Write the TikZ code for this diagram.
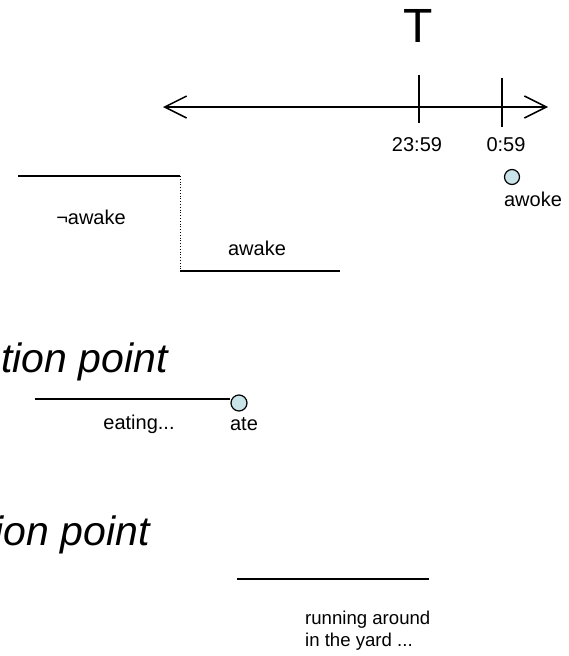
\documentclass[tikz,border=0pt]{standalone}
\usepackage{fontspec}
\setmainfont{Liberation Sans}
\usetikzlibrary{arrows.meta}
\definecolor{dotfill}{HTML}{C8E4E8}
\tikzset{
  lbl/.style={inner sep=0pt, font=\fontsize{20}{22}\selectfont},
  smalllbl/.style={inner sep=0pt, font=\fontsize{18.6}{22}\selectfont, align=left},
  bigital/.style={inner sep=0pt, font=\fontsize{41}{46}\selectfont\itshape},
  bigT/.style={inner sep=0pt, font=\fontsize{48}{50}\selectfont},
  ln/.style={line width=1.5pt},
  dotnode/.style={circle, draw, line width=1.2pt, fill=dotfill, inner sep=0pt, minimum size=15pt},
  tip/.style={line width=1.5pt, {Straight Barb[length=22pt,width=22pt,line width=1.5pt]}-{Straight Barb[length=22pt,width=22pt,line width=1.5pt]}}
}
\begin{document}
\begin{tikzpicture}[x=1pt,y=-1pt]
\useasboundingbox (0,0) rectangle (568,656);
\clip (0,0) rectangle (568,656);
% timeline
\coordinate (L) at (163,107);
\coordinate (R) at (548,107);
\draw[tip] (L) -- (R);
\coordinate (t1a) at (419,75); \coordinate (t1b) at (419,123);
\coordinate (t2a) at (502,78); \coordinate (t2b) at (502,127);
\draw[ln] (t1a) -- (t1b);
\draw[ln] (t2a) -- (t2b);
\node[bigT] (T) at (418,26) {T};
\node[lbl] (l2359) at (417,145) {23:59};
\node[lbl] (l059) at (506,145) {0:59};
\node[dotnode] (awokedot) at (512,177) {};
\node[lbl] (awoke) at (533,199) {awoke};
% step
\coordinate (s1) at (18,176);
\coordinate (s2) at (180,176);
\coordinate (s3) at (180,271);
\coordinate (s4) at (340,271);
\draw[ln] (s1) -- (s2);
\draw[dotted, line width=0.8pt] (s2) -- (s3);
\draw[ln] (s3) -- (s4);
\node[lbl] (notawake) at (91,217) {¬awake};
\node[lbl] (awake) at (257,248) {awake};
% culmination
\node[bigital, anchor=east] (cp1) at (168,362) {tion point};
\coordinate (e1) at (35,399);
\node[dotnode, minimum size=16pt] (atedot) at (239,403) {};
\draw[ln] (e1) -- (atedot.west |- e1);
\node[lbl] (eating) at (139,424) {eating...};
\node[lbl] (ate) at (244,424) {ate};
% no culmination
\node[bigital, anchor=east] (cp2) at (150,535) {ion point};
\coordinate (r1) at (237,579);
\coordinate (r2) at (429,579);
\draw[ln] (r1) -- (r2);
\node[smalllbl, anchor=west] (run) at (305,631) {running around\\in the yard ...};
\end{tikzpicture}
\end{document}
